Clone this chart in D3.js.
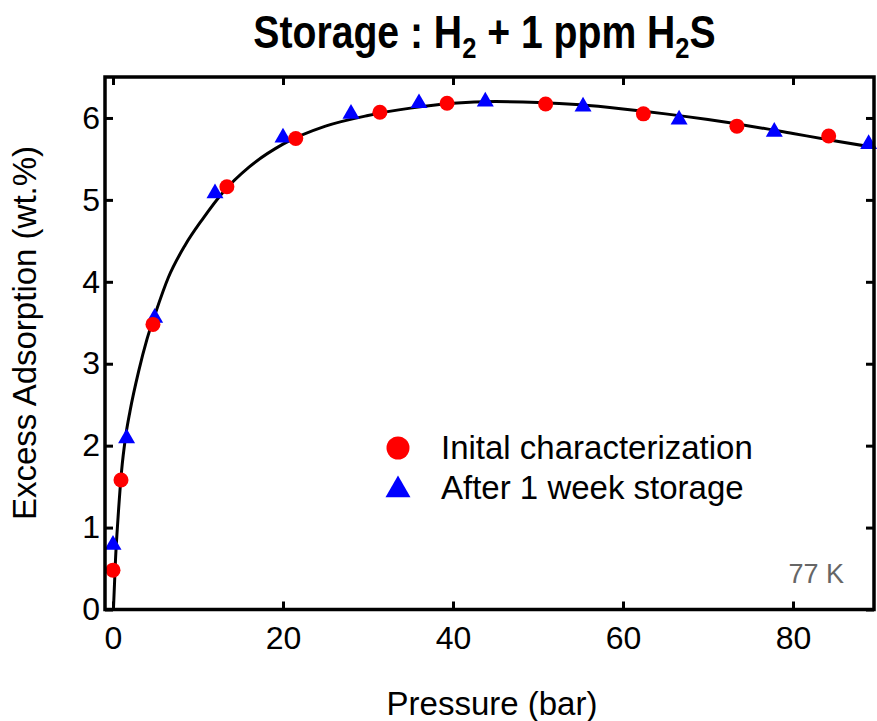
<!DOCTYPE html>
<html>
<head>
<meta charset="utf-8">
<script src="https://cdn.jsdelivr.net/npm/d3@7"></script>
<style>
  html, body { margin: 0; padding: 0; background: #fff; }
  svg { display: block; }
</style>
</head>
<body>
<svg id="chart" width="877" height="721"></svg>
<script>
// ---- data ----
const initialP = [0.0, 0.94, 4.7, 13.4, 21.5, 31.4, 39.3, 50.9, 62.4, 73.4, 84.2];
const initialW = [0.48, 1.58, 3.48, 5.16, 5.75, 6.07, 6.18, 6.17, 6.05, 5.90, 5.78];
const storedP = [0.0, 1.6, 4.9, 12.0, 20.0, 28.0, 36.0, 43.8, 55.3, 66.6, 77.8, 88.9];
const storedW = [0.79, 2.09, 3.56, 5.08, 5.76, 6.05, 6.18, 6.20, 6.14, 5.98, 5.83, 5.68];
const fitP = [0.05, 0.3, 0.6, 1.0, 1.5, 2.0, 3.0, 4.0, 5.0, 6.5, 8.5, 10.5, 13, 16, 20, 25, 30, 35, 40, 45, 50, 55, 60, 65, 70, 75, 80, 85, 89.6];
const fitW = [0.0, 0.62, 1.13, 1.68, 2.12, 2.42, 2.9, 3.3, 3.62, 4.05, 4.45, 4.76, 5.1, 5.4, 5.68, 5.9, 6.03, 6.12, 6.18, 6.2, 6.19, 6.16, 6.11, 6.05, 5.98, 5.9, 5.81, 5.72, 5.64];
const xTicks = [0, 20, 40, 60, 80];
const yTicks = [0, 1, 2, 3, 4, 5, 6];
const legendLabels = ["Inital characterization", "After 1 week storage"];

// ---- layout ----
const L = 105, R = 874, T = 77, B = 609.5;
const svg = d3.select("#chart");
const x = d3.scaleLinear().domain([-0.941, 89.53]).range([L, R]);
const y = d3.scaleLinear().domain([0, 6.5]).range([B, T]);
const font = "'Liberation Sans', Arial, Helvetica, sans-serif";

svg.append("defs").append("clipPath").attr("id", "clip")
  .append("rect").attr("x", L).attr("y", T).attr("width", R - L).attr("height", B - T);

// fit line
const line = d3.line().x(d => x(d[0])).y(d => y(d[1])).curve(d3.curveMonotoneX);
svg.append("path")
  .attr("clip-path", "url(#clip)")
  .attr("d", line(fitP.map((p, i) => [p, fitW[i]])))
  .attr("fill", "none").attr("stroke", "#000").attr("stroke-width", 3);

// markers
const tri = d3.symbol().type(d3.symbolTriangle);
svg.append("g").selectAll("path").data(storedP.map((p, i) => [p, storedW[i]])).join("path")
  .attr("d", tri.size(125)())
  .attr("transform", d => `translate(${x(d[0])},${y(d[1])})`)
  .attr("fill", "#0000ff");
svg.append("g").selectAll("circle").data(initialP.map((p, i) => [p, initialW[i]])).join("circle")
  .attr("cx", d => x(d[0])).attr("cy", d => y(d[1])).attr("r", 7.5)
  .attr("fill", "#ff0000");

// axes (ticks inward on all four sides)
const tl = 8;
const axB = svg.append("g").attr("transform", `translate(0,${B})`)
  .call(d3.axisBottom(x).tickValues(xTicks).tickSizeInner(-tl).tickSizeOuter(0).tickPadding(17).tickFormat(d3.format("d")));
const axT = svg.append("g").attr("transform", `translate(0,${T})`)
  .call(d3.axisTop(x).tickValues(xTicks).tickSizeInner(-tl).tickSizeOuter(0).tickFormat(""));
const axL = svg.append("g").attr("transform", `translate(${L},0)`)
  .call(d3.axisLeft(y).tickValues(yTicks).tickSizeInner(-tl).tickSizeOuter(0).tickPadding(5).tickFormat(d3.format("d")));
const axR = svg.append("g").attr("transform", `translate(${R},0)`)
  .call(d3.axisRight(y).tickValues(yTicks).tickSizeInner(-tl).tickSizeOuter(0).tickFormat(""));
[axB, axT, axL, axR].forEach(a => {
  a.select(".domain").remove();
  a.selectAll(".tick line").attr("stroke", "#000").attr("stroke-width", 3);
  a.selectAll("text").attr("font-family", font).attr("font-size", 32).attr("fill", "#000");
});
axB.selectAll("text").attr("dy", "0.71em");

// frame
svg.append("rect").attr("x", L).attr("y", T).attr("width", R - L).attr("height", B - T)
  .attr("fill", "none").attr("stroke", "#000").attr("stroke-width", 3.5);

// title (condensed bold)
const title = svg.append("text").attr("transform", "translate(484.5,48) scale(0.851,1)")
  .attr("text-anchor", "middle")
  .attr("font-family", font)
  .attr("font-weight", "bold").attr("font-size", 46).attr("fill", "#000");
title.append("tspan").text("Storage : H");
title.append("tspan").text("2").attr("font-size", 30).attr("dy", 10);
title.append("tspan").text(" + 1 ppm H").attr("dy", -10);
title.append("tspan").text("2").attr("font-size", 30).attr("dy", 10);
title.append("tspan").text("S").attr("dy", -10);

// axis labels
svg.append("text").attr("x", 492).attr("y", 715).attr("text-anchor", "middle")
  .attr("font-family", font).attr("font-size", 33).attr("fill", "#000").text("Pressure (bar)");
svg.append("text").attr("transform", "translate(36,333) rotate(-90)").attr("text-anchor", "middle")
  .attr("font-family", font).attr("font-size", 33).attr("fill", "#000").text("Excess Adsorption (wt.%)");

// legend
const lg = svg.append("g");
lg.append("circle").attr("cx", 398).attr("cy", 448).attr("r", 11.5).attr("fill", "#ff0000");
lg.append("path").attr("d", tri.size(270)()).attr("transform", "translate(398,490)").attr("fill", "#0000ff");
lg.selectAll("text").data(legendLabels).join("text")
  .attr("x", 441).attr("y", (d, i) => 459 + i * 40)
  .attr("font-family", font).attr("font-size", 33).attr("fill", "#000").text(d => d);

// temperature note
svg.append("text").attr("x", 844).attr("y", 583).attr("text-anchor", "end")
  .attr("font-family", font).attr("font-size", 27).attr("fill", "#666").text("77 K");
</script>
</body>
</html>
